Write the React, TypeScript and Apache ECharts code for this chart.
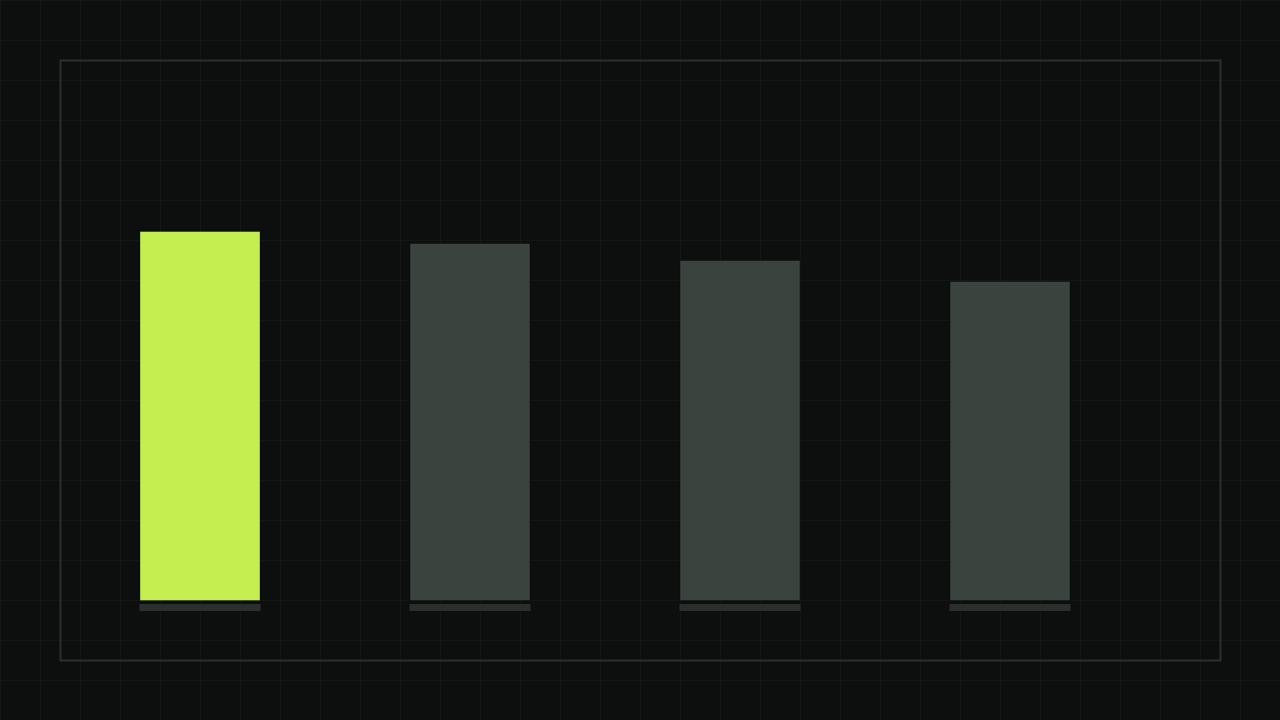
import { useEffect, useRef } from 'react'
import * as echarts from 'echarts'

const categories = ['A', 'B', 'C', 'D']
const values = [92.5, 89.5, 85.25, 80]
const highlightIndex = 0

const LIME = '#c5ee50'
const MUTED = '#3a433d'
const TRACK = '#2a2e2c'
const BG = '#0c0f0e'

export default function App() {
  const chartRef = useRef<HTMLDivElement>(null)

  useEffect(() => {
    if (!chartRef.current) return
    const chart = echarts.init(chartRef.current, null, { renderer: 'svg' })

    const option: echarts.EChartsOption = {
      animation: false,
      backgroundColor: 'transparent',
      grid: { left: 65, width: 1080, top: 201, height: 400 },
      xAxis: {
        type: 'category',
        data: categories,
        axisLine: { show: false },
        axisTick: { show: false },
        axisLabel: { show: false },
        splitLine: { show: false },
      },
      yAxis: {
        type: 'value',
        min: 0,
        max: 100,
        show: false,
      },
      graphic: [
        {
          type: 'rect',
          shape: { x: 60.5, y: 60.5, width: 1160, height: 600 },
          style: { fill: 'none', stroke: '#2b2f2d', lineWidth: 2 },
          silent: true,
        },
      ],
      series: [
        {
          // base track under each bar
          type: 'custom',
          data: values.map((_, i) => [i, 0]),
          renderItem: (params: any, api: any) => {
            const pt = api.coord([api.value(0), 0])
            const w = 121
            return {
              type: 'rect',
              shape: { x: pt[0] - w / 2, y: pt[1] + 3, width: w, height: 7 },
              style: { fill: TRACK },
            }
          },
          silent: true,
          z: 1,
        },
        {
          type: 'bar',
          barWidth: 121,
          data: values.map((v, i) => ({
            value: v,
            itemStyle: {
              color: i === highlightIndex ? LIME : MUTED,
              borderColor: 'rgba(0,0,0,0.35)',
              borderWidth: 1,
            },
          })),
          z: 2,
        },
      ],
    }

    chart.setOption(option)
    return () => chart.dispose()
  }, [])

  return (
    <div
      style={{
        position: 'fixed',
        left: 0,
        top: 0,
        width: 1280,
        height: 720,
        backgroundColor: BG,
        backgroundImage:
          'linear-gradient(rgba(255,255,255,0.028) 1px, transparent 1px), linear-gradient(90deg, rgba(255,255,255,0.028) 1px, transparent 1px)',
        backgroundSize: '40px 40px',
      }}
    >
      <div ref={chartRef} style={{ width: 1280, height: 720 }} />
    </div>
  )
}
